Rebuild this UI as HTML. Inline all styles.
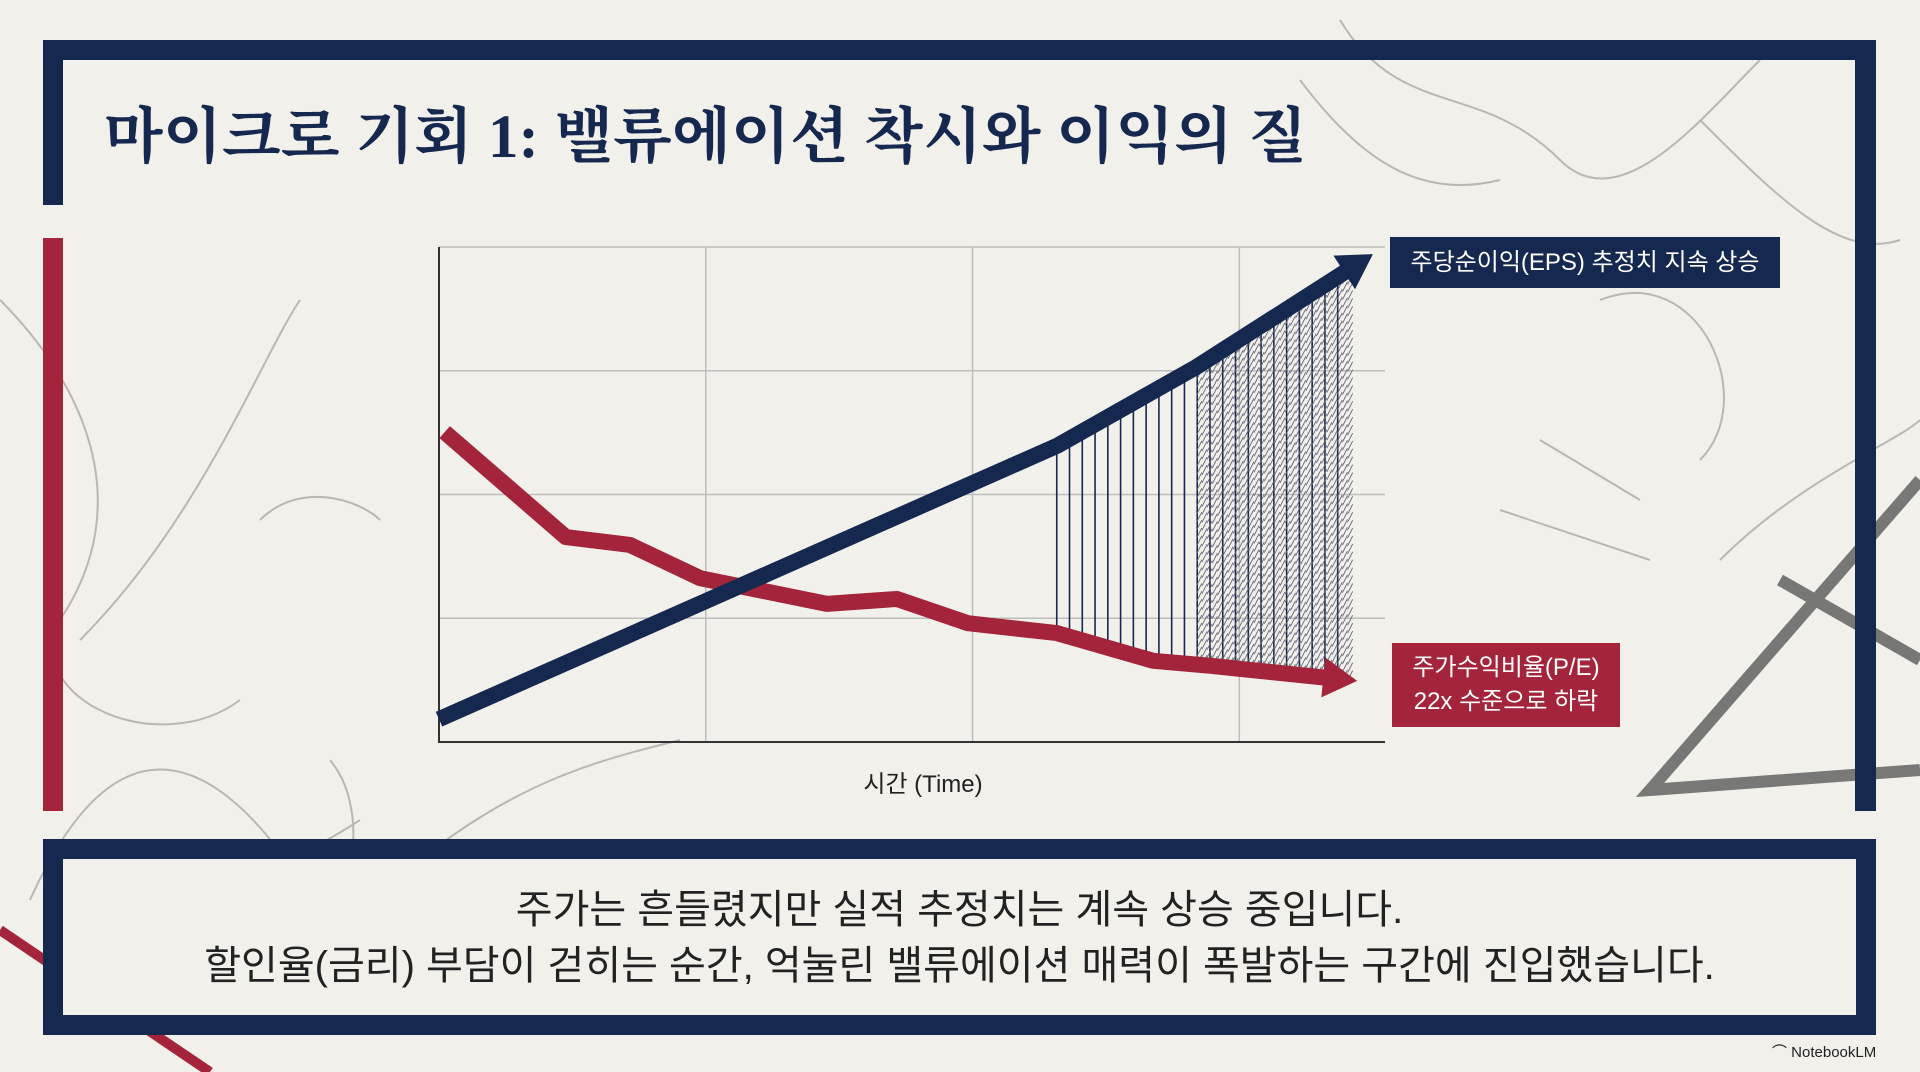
<!DOCTYPE html>
<html><head><meta charset="utf-8">
<style>
html,body{margin:0;padding:0;}
body{width:1920px;height:1072px;background:#f2f0ea;position:relative;overflow:hidden;font-family:"Liberation Sans","Noto Sans CJK KR",sans-serif;}
.abs{position:absolute;}
</style></head>
<body>
<svg class="abs" style="left:0;top:0" width="1920" height="1072">
  <g fill="none" stroke="#8a8a8a" stroke-width="2" opacity="0.55">
    <path d="M0 300 C80 380 140 500 60 620 C20 700 160 760 240 700"/>
    <path d="M30 900 C120 700 220 760 300 880 C340 950 380 820 330 760"/>
    <path d="M80 640 C200 520 260 360 300 300"/>
    <path d="M260 520 C300 480 360 500 380 520"/>
    <path d="M1340 20 C1400 120 1480 80 1560 160 C1620 220 1700 120 1760 60"/>
    <path d="M1600 300 C1700 260 1760 400 1700 460"/>
    <path d="M1540 440 L1640 500 M1500 510 L1650 560"/>
    <path d="M1700 120 C1780 200 1840 260 1900 240"/>
    <path d="M1300 80 C1360 160 1420 200 1500 180"/>
    <path d="M1720 560 C1800 480 1900 440 1920 420"/>
    <path d="M100 1000 C200 900 300 860 360 820"/>
    <path d="M420 860 C520 780 600 760 680 740"/>
  </g>
  <g fill="none" stroke="#6a6a6a" stroke-width="12" opacity="0.9">
    <path d="M1920 480 L1650 790 L1920 770"/>
    <path d="M1780 580 L1920 660"/>
  </g>
  <g stroke="#a3243b" stroke-width="10" fill="none">
    <path d="M0 930 L210 1072"/>
  </g>
</svg>

<div class="abs" style="left:43px;top:40px;width:1833px;height:20px;background:#15284f"></div>
<div class="abs" style="left:43px;top:40px;width:20px;height:165px;background:#15284f"></div>
<div class="abs" style="left:1855px;top:40px;width:21px;height:771px;background:#15284f"></div>
<div class="abs" style="left:43px;top:238px;width:20px;height:573px;background:#a3243b"></div>

<div class="abs" style="left:104px;top:88px;font-family:'Liberation Serif','Noto Serif CJK KR','Noto Serif CJK SC',serif;font-weight:bold;font-size:61px;color:#15284f;white-space:nowrap">마이크로 기회 1: 밸류에이션 착시와 이익의 질</div>

<svg class="abs" style="left:0;top:0" width="1920" height="1072" id="chart"></svg>

<div class="abs" style="left:1390px;top:237px;width:390px;height:51px;background:#15284f;color:#fff;font-size:24px;line-height:51px;text-align:center;white-space:nowrap">주당순이익(EPS) 추정치 지속 상승</div>
<div class="abs" style="left:1392px;top:643px;width:228px;height:84px;background:#a3243b;color:#fff;font-size:24px;line-height:34px;padding-top:8px;box-sizing:border-box;text-align:center;white-space:nowrap">주가수익비율(P/E)<br>22x 수준으로 하락</div>
<div class="abs" style="left:823px;top:764px;width:200px;text-align:center;font-size:24px;color:#222">시간 (Time)</div>

<div class="abs" style="left:43px;top:839px;width:1833px;height:196px;border:20px solid #15284f;box-sizing:border-box;background:#f2f0ea"></div>
<div class="abs" style="left:43px;top:882px;width:1833px;text-align:center;font-size:40px;line-height:56px;color:#222;white-space:nowrap">주가는 흔들렸지만 실적 추정치는 계속 상승 중입니다.<br>할인율(금리) 부담이 걷히는 순간, 억눌린 밸류에이션 매력이 폭발하는 구간에 진입했습니다.</div>
<div class="abs" style="left:1772px;top:1041px;font-size:15px;color:#222">⌒ NotebookLM</div>

<script>
const epsX = [0, 28, 65.3, 80.1, 96.3];
const epsY = [4.6, 28.3, 59.8, 75.8, 95.6];
const peX = [0.6, 13.4, 20.2, 27.6, 41, 48.4, 55.9, 65.3, 75.5, 81.5, 94.2];
const peY = [62.6, 41.4, 39.8, 33.1, 27.9, 28.9, 24, 22, 16.4, 15.4, 12.9];
const gridY = [0, 25, 50, 75, 100];
const gridX = [0, 28.2, 56.4, 84.6];
const hatchStart = 65.3, denseStart = 80.1, hatchEnd = 96.3;

const L=439, R=1385, T=247, B=742;
const sx = v => L + v*(R-L)/100;
const sy = v => B - v*(B-T)/100;
const NS='http://www.w3.org/2000/svg';
const svg=document.getElementById('chart');
function mk(tag, attrs){const e=document.createElementNS(NS,tag);for(const k in attrs)e.setAttribute(k,attrs[k]);svg.appendChild(e);return e;}
function interp(xs,ys,x){for(let i=0;i<xs.length-1;i++){if(x>=xs[i]&&x<=xs[i+1]){const t=(x-xs[i])/(xs[i+1]-xs[i]);return ys[i]+t*(ys[i+1]-ys[i]);}}return x<xs[0]?ys[0]:ys[ys.length-1];}

gridY.forEach((g,i)=>{const e=mk('line',{x1:L,x2:R,y1:sy(g),y2:sy(g),stroke:'#bdbdbd','stroke-width':1.5});

});
gridX.forEach(g=>{const e=mk('line',{x1:sx(g),x2:sx(g),y1:T,y2:B,stroke:'#bdbdbd','stroke-width':1.5});

});
const ax=mk('path',{d:`M${L} ${T} L${L} ${B} L${R} ${B}`,stroke:'#333','stroke-width':2,fill:'none'});



for(let v=hatchStart; v<=hatchEnd+0.01; v+=1.35){
  const top=interp(epsX,epsY,v), bot=interp(peX.concat([98]),peY.concat([11.9]),v);
  const e=mk('line',{x1:sx(v),x2:sx(v),y1:sy(top),y2:sy(bot),stroke:'#15284f','stroke-width':1.6});
  
  
}
for(let v=denseStart; v<=hatchEnd; v+=0.55){
  const top=interp(epsX,epsY,v), bot=interp(peX.concat([98]),peY.concat([11.9]),v);
  for(let yv=bot; yv<top; yv+=1.6){
    const y1=Math.min(yv+1.4,top);
    const e=mk('line',{x1:sx(v),x2:sx(v)+5,y1:sy(yv),y2:sy(y1)-3,stroke:'#667','stroke-width':0.9});
    
    
  }
}

function series(xs,ys,color,name){
  const d=xs.map((x,i)=>(i?'L':'M')+sx(x)+' '+sy(ys[i])).join(' ');
  const p=mk('path',{d,stroke:color,'stroke-width':16,fill:'none','stroke-linejoin':'round'});
  
  
  const n=xs.length, x1=sx(xs[n-2]),y1=sy(ys[n-2]),x2=sx(xs[n-1]),y2=sy(ys[n-1]);
  const a=Math.atan2(y2-y1,x2-x1), len=34, w=20;
  const tx=x2+Math.cos(a)*len*0.8, ty=y2+Math.sin(a)*len*0.8;
  const bx=x2-Math.cos(a)*len*0.2, by=y2-Math.sin(a)*len*0.2;
  const px=-Math.sin(a)*w, py=Math.cos(a)*w;
  const h=mk('polygon',{points:`${tx},${ty} ${bx+px},${by+py} ${bx-px},${by-py}`,fill:color});
  
  
}
series(peX,peY,'#a3243b','pe-line');
series(epsX,epsY,'#15284f','eps-line');
</script>
</body></html>
